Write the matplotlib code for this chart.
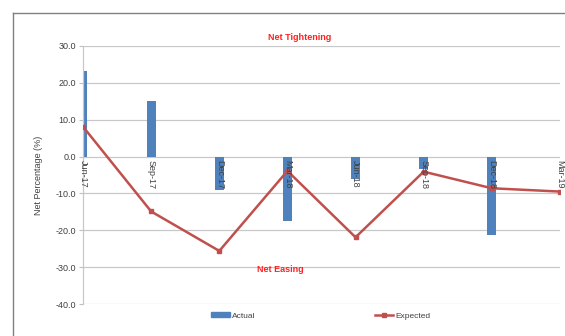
import matplotlib
matplotlib.use("Agg")
import matplotlib.pyplot as plt
from matplotlib.lines import Line2D
from matplotlib.patches import Patch
import numpy as np

categories = ["Jun-17", "Sep-17", "Dec-17", "Mar-18", "Jun-18", "Sep-18", "Dec-18", "Mar-19"]
actual = [23.2, 15.1, -9.1, -17.4, -6.2, -3.4, -21.4, np.nan]
expected = [8.1, -14.9, -25.6, -3.9, -21.9, -4.1, -8.6, -9.5]
yticks = [30, 20, 10, 0, -10, -20, -30, -40]

plt.rcParams['font.family'] = ['Liberation Sans Narrow', 'Liberation Sans', 'DejaVu Sans']

fig = plt.figure(figsize=(5.65, 3.36), dpi=100)
ax = fig.add_axes([0.147, 0.0952, 0.844, 0.768])

x = np.arange(len(categories))
bar_vals = [0 if np.isnan(v) else v for v in actual]
ax.bar(x, bar_vals, width=0.13, color='#4F81BD', zorder=2)
ax.plot(x, expected, color='#C0504D', lw=1.8, marker='s', ms=3.5, zorder=3)

ax.set_xlim(0, 7)
ax.set_ylim(-40, 30)
ax.set_yticks(yticks)
ax.set_yticklabels([f"{v:.1f}" for v in yticks], fontsize=6.5, color='#404040')
ax.set_xticks([])
ax.yaxis.grid(True, color='#C8C8C8', lw=0.9, zorder=0)
ax.tick_params(axis='y', length=3, color='#BFBFBF', pad=2)
for s in ['top', 'right', 'bottom']:
    ax.spines[s].set_visible(False)
ax.spines['left'].set_color('#C8C8C8')
ax.spines['left'].set_linewidth(0.9)

for i, c in enumerate(categories):
    ax.text(x[i], -0.9, c, rotation=270, ha='center', va='top', fontsize=6.5, color='#404040', zorder=4)

ax.set_ylabel("Net Percentage (%)", fontsize=6.5, color='#404040', labelpad=9)

fig.text(300/565, 1 - 38/336, "Net Tightening", color='#FF2020', fontsize=6.5, fontweight='bold', ha='center', va='center')
fig.text(280/565, 1 - 269/336, "Net Easing", color='#FF2020', fontsize=6.5, fontweight='bold', ha='center', va='center')

# outer border
fig.add_artist(Line2D([13/565, 13/565], [0, 1 - 13/336], color='#808080', lw=1, transform=fig.transFigure))
fig.add_artist(Line2D([13/565, 1], [1 - 13/336, 1 - 13/336], color='#808080', lw=1, transform=fig.transFigure))

handles = [Patch(color='#4F81BD'), Line2D([], [], color='#C0504D', lw=1.8, marker='s', ms=3.5)]
leg = fig.legend(handles, ["Actual", "Expected"], loc='center', bbox_to_anchor=(321/565, 1 - 316/336),
                 ncol=2, frameon=False, fontsize=6, columnspacing=14.3, handlelength=2.2, handleheight=0.5,
                 handletextpad=0.3)
for t in leg.get_texts():
    t.set_color('#404040')

fig.savefig("out.png", dpi=100)
